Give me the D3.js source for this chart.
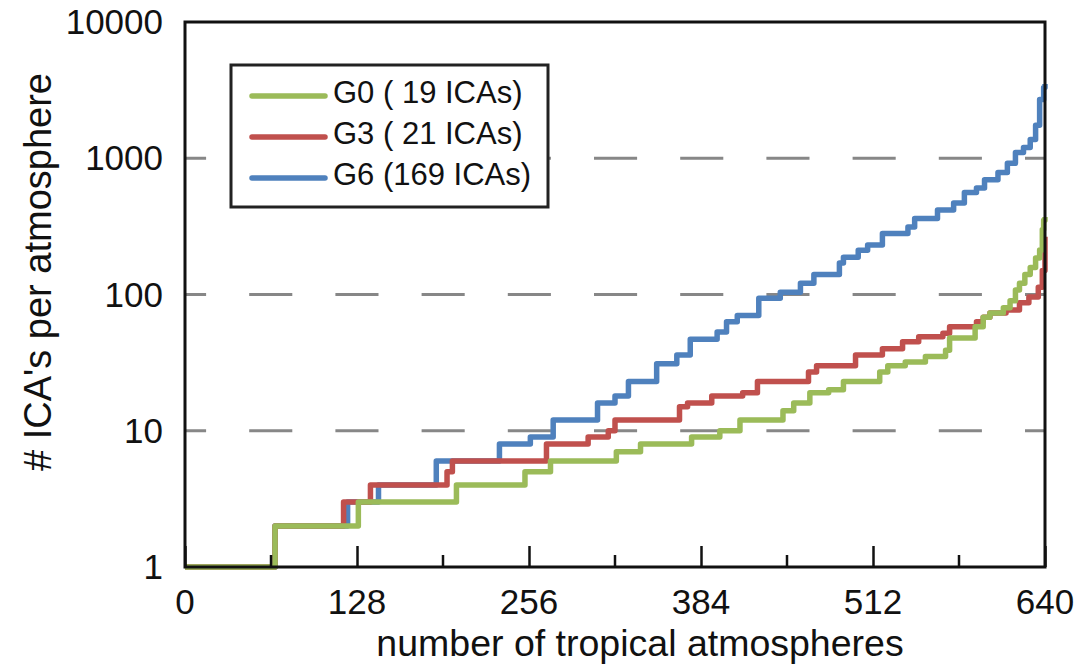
<!DOCTYPE html>
<html>
<head>
<meta charset="utf-8">
<script src="https://cdn.jsdelivr.net/npm/d3@7"></script>
<style>
  html, body { margin: 0; padding: 0; background: #fff; }
  svg { display: block; font-family: "Liberation Sans", Arial, Helvetica, sans-serif; }
</style>
</head>
<body>
<svg id="chart" width="1081" height="671"></svg>
<script>
// ---- data (step-after breakpoints: [atmosphere index, # ICAs]) ----
const seriesNames = ["G0 ( 19 ICAs)", "G3 ( 21 ICAs)", "G6 (169 ICAs)"];
const seriesColors = ["#9bbb59", "#c0504d", "#4f81bd"];

const g0 = [[0,1],[67,2],[129,3],[202,4],[253,5],[272,6],[321,7],[339,8],[377,9],[398,10],[413,12],
  [445,14],[453,16],[465,19],[479,20],[490,23],[517,27],[523,30],[536,32],[551,35],[566,39],[569,48],
  [588,58],[594,68],[599,73],[609,80],[614,90],[618,108],[621,121],[625,140],[629,158],[633,185],
  [636,212],[638,300],[639,350],[640,370]];

const g3 = [[0,1],[67,2],[118,3],[138,4],[195,5],[199,6],[269,8],[300,9],[315,10],[320,12],[368,15],
  [374,16],[392,18],[415,19],[426,23],[464,27],[470,30],[499,36],[519,40],[534,45],[546,49],[564,52],
  [569,58],[589,63],[594,68],[599,73],[611,77],[621,87],[628,96],[635,113],[638,150],[640,265]];

const g6 = [[0,1],[67,2],[121,3],[144,4],[187,6],[234,8],[257,9],[274,12],[307,16],[320,18],[330,23],
  [351,31],[366,36],[376,47],[396,53],[403,63],[411,70],[427,94],[443,104],[458,121],[468,140],
  [487,170],[490,188],[501,211],[508,231],[519,280],[538,313],[543,362],[560,417],[572,470],[580,560],
  [589,605],[595,695],[605,785],[612,920],[618,1100],[624,1200],[629,1370],[633,1750],[636,2700],
  [639,3300],[640,3500]];

const seriesData = [g0, g3, g6];
const xTicks = [0, 128, 256, 384, 512, 640];
const xMinorTicks = [64, 192, 320, 448, 576];
const yTicks = [1, 10, 100, 1000, 10000];
const yGrid = [10, 100, 1000];
const xTitle = "number of tropical atmospheres";
const yTitle = "# ICA's per atmosphere";

// ---- layout ----
const L = 185, R = 1045, T = 22, B = 567;
const svg = d3.select("#chart");
const x = d3.scaleLinear().domain([0, 640]).range([L, R]);
const y = d3.scaleLog().domain([1, 10000]).range([B, T]);

// gridlines
svg.append("g").selectAll("line").data(yGrid).join("line")
  .attr("x1", L).attr("x2", R)
  .attr("y1", d => y(d)).attr("y2", d => y(d))
  .attr("stroke", "#878787").attr("stroke-width", 3)
  .attr("stroke-dasharray", "43.1,43.1").attr("stroke-dashoffset", 22);

// series (blue under red under green)
const line = d3.line().x(d => x(d[0])).y(d => y(d[1])).curve(d3.curveStepAfter);
[2, 1, 0].forEach(i => {
  svg.append("path").datum(seriesData[i])
    .attr("d", line).attr("fill", "none")
    .attr("stroke", seriesColors[i]).attr("stroke-width", 5.5)
    .attr("stroke-linejoin", "round").attr("stroke-linecap", "butt");
});

// frame
svg.append("rect").attr("x", L).attr("y", T).attr("width", R - L).attr("height", B - T)
  .attr("fill", "none").attr("stroke", "#111").attr("stroke-width", 3);

// x ticks (inward)
const xAxis = d3.axisBottom(x).tickValues(xTicks).tickSize(-21).tickSizeOuter(0).tickPadding(0).tickFormat("");
const gx = svg.append("g").attr("transform", `translate(0,${B})`).call(xAxis);
gx.select(".domain").remove();
gx.selectAll(".tick line").attr("stroke", "#111").attr("stroke-width", 2.5);
svg.append("g").selectAll("line").data(xMinorTicks).join("line")
  .attr("x1", d => x(d)).attr("x2", d => x(d)).attr("y1", B).attr("y2", B - 12)
  .attr("stroke", "#111").attr("stroke-width", 2.5);

// x tick labels
svg.append("g").selectAll("text").data(xTicks).join("text")
  .attr("x", d => x(d)).attr("y", 614)
  .attr("text-anchor", "middle").attr("font-size", 35).attr("fill", "#111")
  .text(d => d);

// y tick labels
svg.append("g").selectAll("text").data(yTicks).join("text")
  .attr("x", 163).attr("y", d => y(d) + 12)
  .attr("text-anchor", "end").attr("font-size", 35).attr("fill", "#111")
  .text(d => d);

// axis titles
svg.append("text").attr("x", 640).attr("y", 656).attr("text-anchor", "middle")
  .attr("font-size", 37.5).attr("fill", "#111").text(xTitle);
svg.append("text").attr("transform", "translate(51,272) rotate(-90)")
  .attr("text-anchor", "middle").attr("font-size", 38).attr("fill", "#111").text(yTitle);

// legend
const lg = svg.append("g");
lg.append("rect").attr("x", 231).attr("y", 65).attr("width", 317).attr("height", 142)
  .attr("fill", "#fff").attr("stroke", "#222").attr("stroke-width", 3);
const rowY = [96, 137, 178];
seriesNames.forEach((name, i) => {
  lg.append("line").attr("x1", 252).attr("x2", 325).attr("y1", rowY[i]).attr("y2", rowY[i])
    .attr("stroke", seriesColors[i]).attr("stroke-width", 5.5).attr("stroke-linecap", "round");
  lg.append("text").attr("x", 333).attr("y", rowY[i] + 7).attr("font-size", 31).attr("fill", "#111")
    .attr("xml:space", "preserve").style("white-space", "pre").text(name);
});
</script>
</body>
</html>
